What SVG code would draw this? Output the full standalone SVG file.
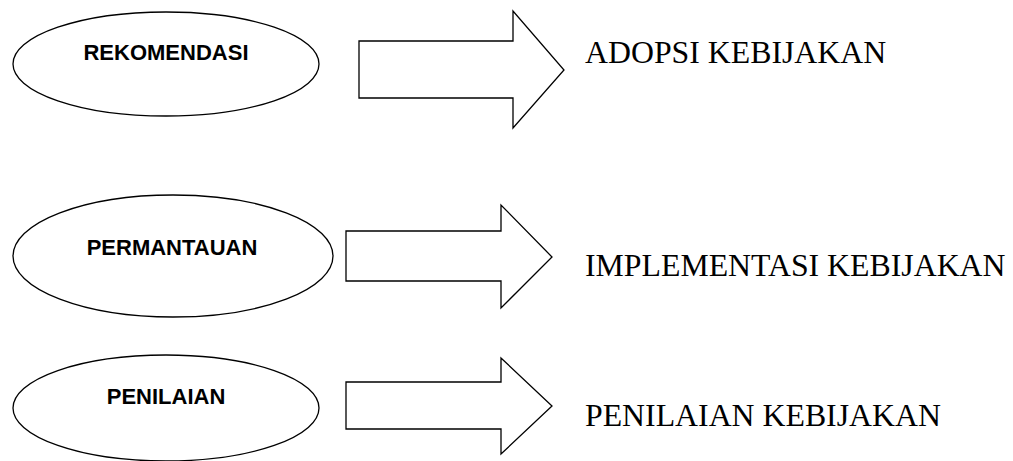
<svg xmlns="http://www.w3.org/2000/svg" width="1013" height="461" viewBox="0 0 1013 461">
<style>
.node{fill:#fff;stroke:#000;stroke-width:1.3}
.arrow{fill:#fff;stroke:#000;stroke-width:1.3;stroke-linejoin:miter}
.lbl{font-family:"Liberation Sans",Arial,sans-serif;font-weight:bold;font-size:22px;fill:#000;text-anchor:middle}
.out{font-family:"Liberation Serif","Times New Roman",serif;font-size:31.8px;fill:#000}
</style>
<rect width="1013" height="461" fill="#fff"/>
<g id="rekomendasi">
<ellipse class="node" cx="166" cy="64" rx="153" ry="52"/>
<text class="lbl" x="166" y="60">REKOMENDASI</text>
</g>
<g id="permantauan">
<ellipse class="node" cx="173" cy="256" rx="160" ry="61"/>
<text class="lbl" x="172" y="255">PERMANTAUAN</text>
</g>
<g id="penilaian">
<ellipse class="node" cx="166" cy="408" rx="153" ry="53"/>
<text class="lbl" x="166" y="404">PENILAIAN</text>
</g>
<g id="connectors">
<polygon class="arrow" points="359,41 513,41 513,11 564,70 513,128 513,98 359,98"/>
<polygon class="arrow" points="346,231 501,231 501,205 552,257 501,308 501,281 346,281"/>
<polygon class="arrow" points="346,382 501,382 501,358 552,406 501,454 501,429 346,429"/>
</g>
<g id="adopsi">
<text class="out" x="585" y="63">ADOPSI KEBIJAKAN</text>
</g>
<g id="implementasi">
<text class="out" x="585" y="276">IMPLEMENTASI KEBIJAKAN</text>
</g>
<g id="penilaian-kebijakan">
<text class="out" x="585" y="426">PENILAIAN KEBIJAKAN</text>
</g>
</svg>
